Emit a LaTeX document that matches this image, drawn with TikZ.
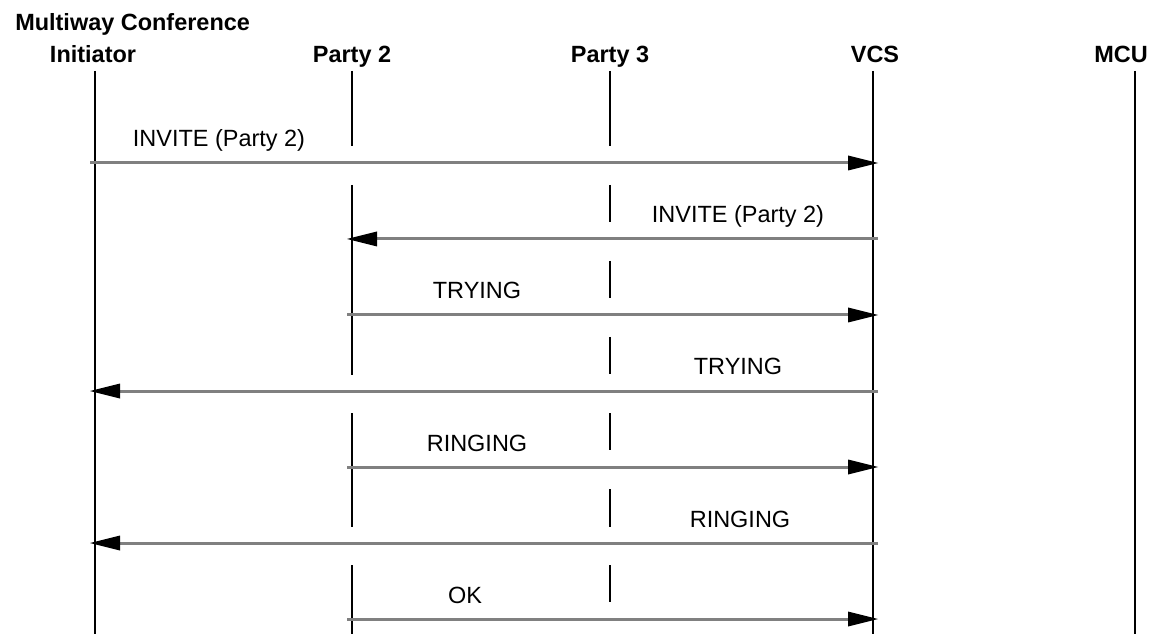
\documentclass[tikz,border=0pt]{standalone}
\usepackage{fontspec}
\setmainfont{Liberation Sans}
\usetikzlibrary{arrows.meta}
\tikzset{
head/.style={font=\fontsize{17.6}{21}\selectfont\bfseries, inner sep=0pt, anchor=base}, % lifeline titles
lbl/.style={font=\fontsize{17.6}{21}\selectfont, inner sep=0pt, anchor=base}, % message texts
life/.style={line width=1pt, black},
msg/.style={line width=2.25pt, gray, -{Triangle[length=22.5pt, width=11.25pt, line width=0pt, color=black, fill=black]}, shorten <=-3.75pt, shorten >=-3.75pt},
}

\begin{document}
\begin{tikzpicture}[x=0.75pt, y=-0.75pt]
      \useasboundingbox (0,0) rectangle (1152,634);
      \node[head, anchor=base west] (title) at (15,31) {Multiway Conference};
      \node[head] (ini) at (93,63) {Initiator};
      \node[head] (p2) at (352,63) {Party 2};
      \node[head] (p3) at (610,63) {Party 3};
      \node[head] (vcs) at (875,63) {VCS};
      \node[head] (mcu) at (1121,63) {MCU};
      % lifelines
      \coordinate (iniL) at (95,71);
      \coordinate (p2L) at (352,71);
      \coordinate (p3L) at (610,71);
      \coordinate (vcsL) at (873,71);
      \coordinate (mcuL) at (1135,71);
      \draw[life] (iniL) -- (iniL |- 0,634);
      \draw[life] (vcsL) -- (vcsL |- 0,634);
      \draw[life] (mcuL) -- (mcuL |- 0,634);
      \foreach \a/\b in {71/146, 185/375, 413/527, 565/634}
        \draw[life] (p2L |- 0,\a) -- (p2L |- 0,\b);
      \foreach \a/\b in {71/146, 185/222, 261/298, 337/374, 413/450, 489/527, 565/602}
        \draw[life] (p3L |- 0,\a) -- (p3L |- 0,\b);
      % message rows
      \foreach \i/\y in {1/163, 2/239, 3/315, 4/391, 5/467, 6/543, 7/619}
        \coordinate (m\i) at (0,\y);
      \draw[msg] (iniL |- m1) -- (vcsL |- m1);
      \draw[msg] (vcsL |- m2) -- (p2L |- m2);
      \draw[msg] (p2L |- m3) -- (vcsL |- m3);
      \draw[msg] (vcsL |- m4) -- (iniL |- m4);
      \draw[msg] (p2L |- m5) -- (vcsL |- m5);
      \draw[msg] (vcsL |- m6) -- (iniL |- m6);
      \draw[msg] (p2L |- m7) -- (vcsL |- m7);
      \node[lbl] (t1) at (219,147) {INVITE (Party 2)};
      \node[lbl] (t2) at (738,223) {INVITE (Party 2)};
      \node[lbl] (t3) at (477,299) {TRYING};
      \node[lbl] (t4) at (738,374) {TRYING};
      \node[lbl] (t5) at (477,451) {RINGING};
      \node[lbl] (t6) at (740,527) {RINGING};
      \node[lbl] (t7) at (465,603) {OK};
\end{tikzpicture}
\end{document}
